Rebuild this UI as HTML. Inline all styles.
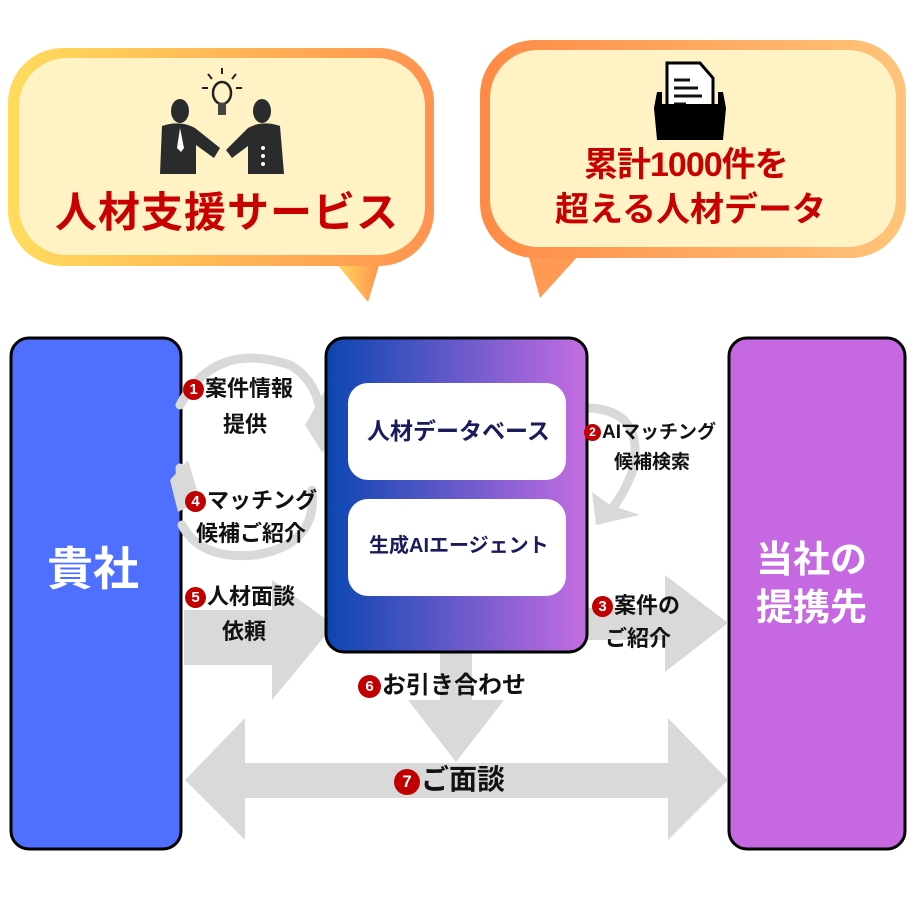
<!DOCTYPE html>
<html><head><meta charset="utf-8"><style>
body{margin:0;width:922px;height:922px;background:#fff;overflow:hidden;position:relative;font-family:"Liberation Sans","Noto Sans CJK JP",sans-serif;}
.t{position:absolute;font-weight:bold;color:#111;white-space:nowrap;font-size:22px;line-height:26px;}
.n{display:inline-block;width:21px;height:21px;border-radius:50%;background:#c00000;color:#fff;font-size:15px;line-height:21px;text-align:center;vertical-align:2px;margin-right:1px;}
</style></head><body>
<svg width="922" height="922" style="position:absolute;left:0;top:0">
<defs>
<linearGradient id="lb" x1="0" x2="1"><stop offset="0" stop-color="#ffdc5c"/><stop offset="1" stop-color="#ff9350"/></linearGradient>
<linearGradient id="rb" x1="0" x2="1"><stop offset="0" stop-color="#ff8a45"/><stop offset="1" stop-color="#ffc57a"/></linearGradient>
<linearGradient id="cb" x1="0" x2="1"><stop offset="0" stop-color="#0a46b2"/><stop offset="1" stop-color="#c56de2"/></linearGradient>
</defs>
<path d="M335 262 L368 302 L380 262 Z" fill="url(#lb)"/>
<rect x="8" y="48" width="426" height="218" rx="55" fill="url(#lb)"/>
<rect x="19" y="58" width="406" height="197" rx="48" fill="#fff2c4"/>
<path d="M528 254 L540 298 L580 254 Z" fill="#ff9a55"/>
<rect x="480" y="40" width="426" height="218" rx="55" fill="url(#rb)"/>
<rect x="490" y="50" width="406" height="197" rx="48" fill="#fff2c4"/>
<g fill="#2a2b2d">
<ellipse cx="180" cy="111" rx="9" ry="12"/><ellipse cx="262" cy="111" rx="9" ry="12"/>
<path d="M162 126 Q180 120 195 128 L220 148 L214 158 L196 145 L196 174 L160 174 Z"/>
<path d="M280 126 Q262 120 248 128 L226 150 L232 158 L248 146 L248 174 L284 174 Z"/>
</g>
<path d="M180 128 L177 148 L181 152 L184 148 Z" fill="#fff"/>
<g fill="#fff"><circle cx="263" cy="148" r="2"/><circle cx="263" cy="156" r="2"/><circle cx="263" cy="164" r="2"/></g>
<ellipse cx="222" cy="93" rx="9" ry="11" fill="none" stroke="#222" stroke-width="2.5"/>
<rect x="218" y="103" width="8" height="12" fill="#444"/>
<g stroke="#222" stroke-width="2"><line x1="222" y1="68" x2="222" y2="74"/><line x1="208" y1="74" x2="212" y2="79"/><line x1="236" y1="74" x2="232" y2="79"/><line x1="202" y1="88" x2="208" y2="88"/><line x1="242" y1="88" x2="236" y2="88"/></g>
<path d="M667 63 L700 63 L713 78 L713 112 L667 112 Z" fill="#fff" stroke="#000" stroke-width="3"/>
<g stroke="#111" stroke-width="3"><line x1="674" y1="80" x2="690" y2="80"/><line x1="674" y1="88" x2="698" y2="88"/><line x1="674" y1="96" x2="702" y2="96"/><line x1="674" y1="104" x2="686" y2="104"/></g>
<path d="M657 92 L662 92 L662 104 L718 104 L718 92 L723 92 L726 108 L723 140 L657 140 L654 108 Z" fill="#000"/>
<rect x="11" y="338" width="170" height="511" rx="18" fill="#4f70fe" stroke="#000" stroke-width="3"/>
<rect x="729" y="338" width="176" height="511" rx="18" fill="#c568e2" stroke="#000" stroke-width="3"/>
<g fill="#d9d9d9">
<path d="M184 610 L272 610 L272 580 L334 625 L272 700 L272 665 L184 665 Z"/>
<path d="M588 608 L665 608 L665 575 L728 623 L665 672 L665 640 L588 640 Z"/>
<path d="M440 650 L472 650 L472 700 L504 700 L456 762 L408 700 L440 700 Z"/>
<path d="M185 780 L245 718 L245 763 L668 763 L668 718 L728 780 L668 840 L668 798 L245 798 L245 840 Z"/>
</g>
<g fill="none" stroke="#d9d9d9" stroke-width="9" stroke-linecap="round">
<path d="M180 405 Q215 340 290 365 Q325 385 322 440"/>
<path d="M182 525 Q200 560 255 555 Q318 545 312 490"/>
<path d="M180 468 L182 500"/>
<path d="M588 408 Q645 410 633 470 Q620 505 600 520"/>
</g>
<g fill="#d9d9d9">
<path d="M305 425 L328 385 L332 445 L322 452 Z"/>
<path d="M170 480 L188 460 L200 500 L178 512 Z"/>
<path d="M592 492 L596 525 L640 515 L610 505 Z"/>
</g>
<rect x="326" y="338" width="261" height="314" rx="18" fill="url(#cb)" stroke="#000" stroke-width="3"/>
<rect x="348" y="383" width="218" height="97" rx="20" fill="#fff"/>
<rect x="348" y="499" width="218" height="97" rx="20" fill="#fff"/>
</svg>
<div class="t" style="left:55px;top:188px;font-size:42px;line-height:50px;color:#c80000;letter-spacing:1px">人材支援サービス</div>
<div class="t" style="left:584px;top:145px;font-size:34px;line-height:40px;color:#c80000;letter-spacing:-1px">累計1000件を</div>
<div class="t" style="left:555px;top:190px;font-size:34px;line-height:40px;color:#c80000">超える人材データ</div>
<div class="t" style="left:47px;top:542px;font-size:46px;line-height:54px;color:#fff">貴社</div>
<div class="t" style="left:756px;top:536px;font-size:37px;line-height:48px;color:#fff;text-align:center">当社の<br>提携先</div>
<div class="t" style="left:367px;top:418px;font-size:23px;color:#1a1a5e">人材データベース</div>
<div class="t" style="left:369px;top:533px;font-size:20px;color:#1a1a5e">生成AIエージェント</div>
<div class="t" style="left:183px;top:376px"><span class="n">1</span>案件情報</div>
<div class="t" style="left:223px;top:412px">提供</div>
<div class="t" style="left:185px;top:488px"><span class="n">4</span>マッチング</div>
<div class="t" style="left:196px;top:521px">候補ご紹介</div>
<div class="t" style="left:185px;top:584px"><span class="n">5</span>人材面談</div>
<div class="t" style="left:222px;top:619px">依頼</div>
<div class="t" style="left:584px;top:420px;font-size:19px"><span class="n" style="width:17px;height:17px;line-height:17px;font-size:12px">2</span>AIマッチング</div>
<div class="t" style="left:614px;top:450px;font-size:19px">候補検索</div>
<div class="t" style="left:592px;top:593px"><span class="n">3</span>案件の</div>
<div class="t" style="left:605px;top:626px">ご紹介</div>
<div class="t" style="left:358px;top:672px;font-size:24px;line-height:28px"><span class="n" style="width:23px;height:23px;line-height:23px">6</span>お引き合わせ</div>
<div class="t" style="left:394px;top:764px;font-size:28px;line-height:32px"><span class="n" style="width:26px;height:26px;line-height:26px;font-size:17px">7</span>ご面談</div>
</body></html>
